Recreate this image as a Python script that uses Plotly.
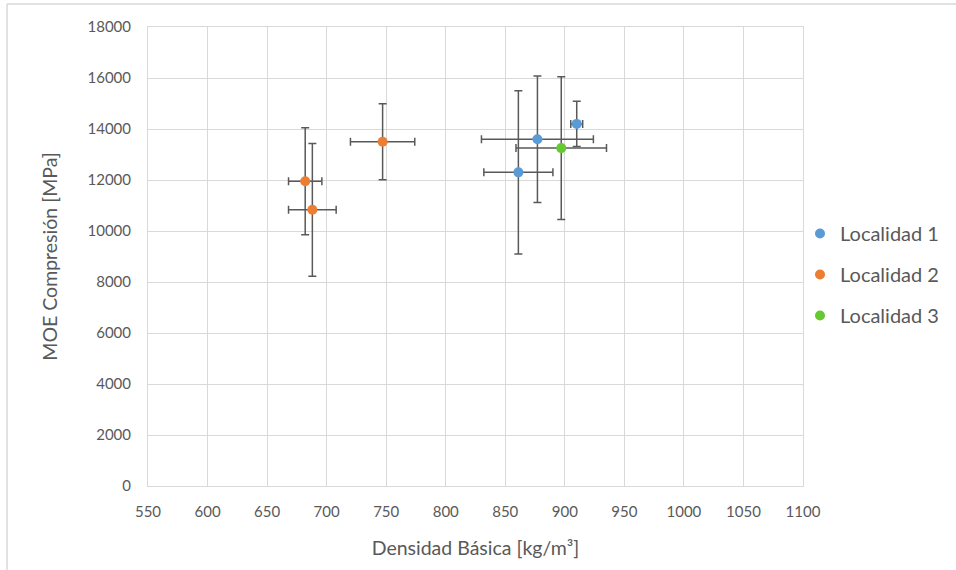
import plotly.graph_objects as go

series_names = ["Localidad 1", "Localidad 2", "Localidad 3"]
colors = ["#5B9BD5", "#ED7D31", "#66C832"]

loc1_x = [861, 877, 910]
loc1_y = [12300, 13600, 14200]
loc1_ex = [29, 47, 5]
loc1_ey = [3200, 2480, 890]

loc2_x = [682, 688, 747]
loc2_y = [11950, 10830, 13500]
loc2_ex = [14, 20, 27]
loc2_ey = [2100, 2600, 1490]

loc3_x = [897]
loc3_y = [13250]
loc3_ex = [38]
loc3_ey = [2800]

x_ticks = list(range(550, 1101, 50))
y_ticks = list(range(0, 18001, 2000))

FONT = "Lato, 'Open Sans', sans-serif"
TXT = "#595959"
ERR = "#595959"

W, H = 956, 570
L, R, T, B = 148, 153, 27, 84
PW, PH = W - L - R, H - T - B

fig = go.Figure()
data = [(loc1_x, loc1_y, loc1_ex, loc1_ey),
        (loc2_x, loc2_y, loc2_ex, loc2_ey),
        (loc3_x, loc3_y, loc3_ex, loc3_ey)]
for i, (xs, ys, ex, ey) in enumerate(data):
    fig.add_trace(go.Scatter(
        x=xs, y=ys, mode="markers", name=series_names[i],
        legendgroup=series_names[i],
        marker=dict(color=colors[i], size=10),
        error_x=dict(type="data", array=ex, visible=True, color=ERR, thickness=1.5, width=4),
        error_y=dict(type="data", array=ey, visible=True, color=ERR, thickness=1.5, width=4),
    ))

fig.update_layout(
    width=W, height=H,
    margin=dict(l=L, r=R, t=T, b=B, autoexpand=False),
    paper_bgcolor="white", plot_bgcolor="white",
    font=dict(family=FONT, color=TXT, size=15),
    xaxis=dict(range=[550, 1100], tickvals=x_ticks, showgrid=True, gridcolor="#D9D9D9",
               gridwidth=1, zeroline=False, showline=True, linecolor="#D9D9D9", mirror=True,
               ticks="", tickfont=dict(size=15, color=TXT), ticklabelstandoff=12, automargin=False,
               title=dict(text="Densidad Básica [kg/m³]", font=dict(size=19.5, color=TXT), standoff=22)),
    yaxis=dict(range=[0, 18000], tickvals=y_ticks, tickformat="d", showgrid=True, gridcolor="#D9D9D9",
               gridwidth=1, zeroline=False, showline=True, linecolor="#D9D9D9", mirror=True,
               ticks="", tickfont=dict(size=15, color=TXT), ticklabelstandoff=13, automargin=False,
               title=dict(text="MOE Compresión [MPa]", font=dict(size=19.5, color=TXT), standoff=24)),
    legend=dict(x=1 - 3 / PW, y=0.5 - 18 / PH, xanchor="left", yanchor="middle",
                bgcolor="rgba(0,0,0,0)",
                font=dict(size=20, color=TXT), tracegroupgap=12, traceorder="grouped",
                itemwidth=30),
    showlegend=True,
    shapes=[
        dict(type="line", xref="paper", yref="paper", x0=(7 - L) / PW, x1=(W - L) / PW,
             y0=(H - B - 4) / PH, y1=(H - B - 4) / PH, line=dict(color="#D9D9D9", width=1.5)),
        dict(type="line", xref="paper", yref="paper", x0=(7 - L) / PW, x1=(7 - L) / PW,
             y0=-B / PH, y1=(H - B - 4) / PH, line=dict(color="#D9D9D9", width=1.5)),
    ],
)

fig.write_html("out.html", config={"displayModeBar": False},
               post_script="document.body.style.margin='0';document.body.style.padding='0';")
